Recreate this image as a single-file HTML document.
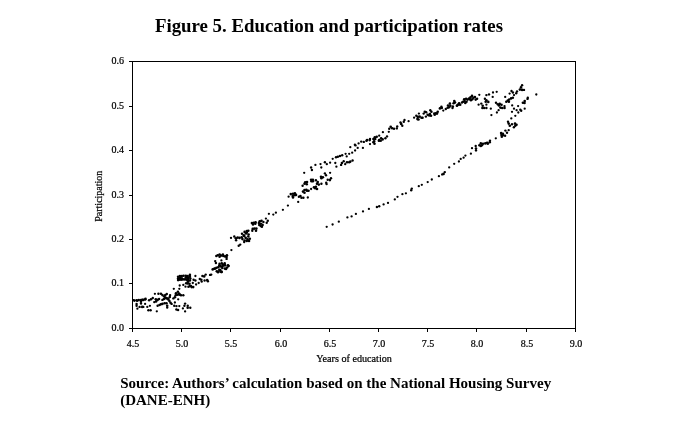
<!DOCTYPE html>
<html lang="en"><head><meta charset="utf-8"><title>Figure 5. Education and participation rates</title>
<style>html,body{margin:0;padding:0;background:#fff}svg{display:block;will-change:transform}text{font-family:"Liberation Serif",serif;fill:#000}.b{font-weight:bold}.t{font-size:10px;stroke:#000;stroke-width:.22px}</style></head><body>
<svg width="679" height="426" viewBox="0 0 679 426">
<rect width="679" height="426" fill="#fff"/>
<text class="b" x="154.9" y="31.8" font-size="18.8" textLength="348.1" lengthAdjust="spacingAndGlyphs">Figure 5. Education and participation rates</text>
<g shape-rendering="crispEdges" fill="#000">
<rect x="132" y="61" width="444" height="1"/>
<rect x="132" y="328" width="444" height="1"/>
<rect x="132" y="61" width="1" height="268"/>
<rect x="575" y="61" width="1" height="268"/>
<rect x="129" y="328" width="3" height="1"/>
<rect x="129" y="283" width="3" height="1"/>
<rect x="129" y="239" width="3" height="1"/>
<rect x="129" y="195" width="3" height="1"/>
<rect x="129" y="150" width="3" height="1"/>
<rect x="129" y="106" width="3" height="1"/>
<rect x="129" y="61" width="3" height="1"/>
<rect x="132" y="329" width="1" height="3"/>
<rect x="181" y="329" width="1" height="3"/>
<rect x="230" y="329" width="1" height="3"/>
<rect x="280" y="329" width="1" height="3"/>
<rect x="329" y="329" width="1" height="3"/>
<rect x="378" y="329" width="1" height="3"/>
<rect x="427" y="329" width="1" height="3"/>
<rect x="476" y="329" width="1" height="3"/>
<rect x="526" y="329" width="1" height="3"/>
<rect x="575" y="329" width="1" height="3"/>
</g>
<g class="t" text-anchor="end">
<text x="124" y="331.4">0.0</text>
<text x="124" y="286.4">0.1</text>
<text x="124" y="242.4">0.2</text>
<text x="124" y="198.4">0.3</text>
<text x="124" y="153.4">0.4</text>
<text x="124" y="109.4">0.5</text>
<text x="124" y="64.4">0.6</text>
</g>
<g class="t" text-anchor="middle">
<text x="132.9" y="347.3">4.5</text>
<text x="181.9" y="347.3">5.0</text>
<text x="230.9" y="347.3">5.5</text>
<text x="280.9" y="347.3">6.0</text>
<text x="329.9" y="347.3">6.5</text>
<text x="378.9" y="347.3">7.0</text>
<text x="427.9" y="347.3">7.5</text>
<text x="476.9" y="347.3">8.0</text>
<text x="526.9" y="347.3">8.5</text>
<text x="575.9" y="347.3">9.0</text>
<text x="354.1" y="361.6" textLength="75.6" lengthAdjust="spacingAndGlyphs">Years of education</text>
<text transform="translate(102.2 196.2) rotate(-90)">Participation</text>
</g>
<g fill="#000">
<circle cx="134.4" cy="300.6" r="1.3"/>
<circle cx="136.6" cy="300.3" r="1.3"/>
<circle cx="138.8" cy="300.0" r="1.3"/>
<circle cx="141.0" cy="300.0" r="1.3"/>
<circle cx="143.3" cy="299.9" r="1.3"/>
<circle cx="145.1" cy="299.5" r="1.3"/>
<circle cx="149.1" cy="300.3" r="1.2"/>
<circle cx="151.0" cy="299.3" r="1.3"/>
<circle cx="152.8" cy="298.0" r="1.2"/>
<circle cx="155.8" cy="299.3" r="1.3"/>
<circle cx="157.6" cy="299.9" r="1.3"/>
<circle cx="159.1" cy="299.0" r="1.2"/>
<circle cx="154.9" cy="293.8" r="1.15"/>
<circle cx="158.4" cy="293.8" r="1.2"/>
<circle cx="160.9" cy="293.8" r="1.3"/>
<circle cx="162.4" cy="295.1" r="1.3"/>
<circle cx="164.2" cy="296.3" r="1.3"/>
<circle cx="165.3" cy="295.1" r="1.3"/>
<circle cx="166.8" cy="294.0" r="1.2"/>
<circle cx="165.0" cy="298.0" r="1.3"/>
<circle cx="162.4" cy="299.9" r="1.2"/>
<circle cx="163.9" cy="299.0" r="1.3"/>
<circle cx="166.8" cy="298.4" r="1.3"/>
<circle cx="168.3" cy="299.5" r="1.3"/>
<circle cx="169.4" cy="301.0" r="1.3"/>
<circle cx="170.1" cy="295.1" r="1.2"/>
<circle cx="169.8" cy="296.9" r="1.3"/>
<circle cx="170.5" cy="302.8" r="1.3"/>
<circle cx="171.6" cy="303.9" r="1.2"/>
<circle cx="173.8" cy="288.8" r="1.15"/>
<circle cx="173.4" cy="298.4" r="1.2"/>
<circle cx="174.9" cy="297.3" r="1.3"/>
<circle cx="176.0" cy="293.3" r="1.3"/>
<circle cx="177.9" cy="291.8" r="1.3"/>
<circle cx="179.0" cy="293.6" r="1.3"/>
<circle cx="179.3" cy="288.8" r="1.15"/>
<circle cx="179.7" cy="285.5" r="1.15"/>
<circle cx="178.2" cy="299.3" r="1.15"/>
<circle cx="174.9" cy="302.5" r="1.15"/>
<circle cx="174.2" cy="305.8" r="1.2"/>
<circle cx="176.4" cy="306.1" r="1.2"/>
<circle cx="179.3" cy="306.1" r="1.15"/>
<circle cx="176.4" cy="309.5" r="1.2"/>
<circle cx="136.6" cy="303.9" r="1.2"/>
<circle cx="136.6" cy="305.8" r="1.2"/>
<circle cx="141.0" cy="301.7" r="1.3"/>
<circle cx="141.0" cy="303.6" r="1.2"/>
<circle cx="145.1" cy="303.9" r="1.15"/>
<circle cx="139.6" cy="306.9" r="1.2"/>
<circle cx="142.2" cy="306.9" r="1.3"/>
<circle cx="143.3" cy="306.9" r="1.2"/>
<circle cx="137.4" cy="308.7" r="1.15"/>
<circle cx="147.3" cy="306.9" r="1.15"/>
<circle cx="149.9" cy="305.8" r="1.15"/>
<circle cx="154.3" cy="302.1" r="1.2"/>
<circle cx="156.1" cy="301.4" r="1.3"/>
<circle cx="157.6" cy="305.8" r="1.2"/>
<circle cx="159.5" cy="305.0" r="1.3"/>
<circle cx="160.9" cy="304.3" r="1.3"/>
<circle cx="162.4" cy="303.9" r="1.3"/>
<circle cx="164.6" cy="303.2" r="1.3"/>
<circle cx="166.5" cy="303.2" r="1.3"/>
<circle cx="167.2" cy="305.8" r="1.3"/>
<circle cx="167.2" cy="307.6" r="1.2"/>
<circle cx="148.4" cy="310.2" r="1.2"/>
<circle cx="150.6" cy="310.2" r="1.2"/>
<circle cx="178.1" cy="276.8" r="1.3"/>
<circle cx="178.1" cy="278.6" r="1.3"/>
<circle cx="178.1" cy="280.1" r="1.3"/>
<circle cx="179.9" cy="276.0" r="1.3"/>
<circle cx="179.9" cy="277.9" r="1.3"/>
<circle cx="181.8" cy="278.3" r="1.3"/>
<circle cx="185.8" cy="277.5" r="1.3"/>
<circle cx="179.9" cy="279.7" r="1.3"/>
<circle cx="181.8" cy="276.0" r="1.3"/>
<circle cx="181.8" cy="279.7" r="1.3"/>
<circle cx="183.6" cy="275.7" r="1.3"/>
<circle cx="184.0" cy="279.4" r="1.3"/>
<circle cx="185.8" cy="275.7" r="1.3"/>
<circle cx="185.8" cy="279.4" r="1.3"/>
<circle cx="187.7" cy="276.0" r="1.3"/>
<circle cx="188.0" cy="277.9" r="1.3"/>
<circle cx="188.0" cy="279.7" r="1.3"/>
<circle cx="188.0" cy="281.6" r="1.3"/>
<circle cx="189.9" cy="274.9" r="1.3"/>
<circle cx="189.9" cy="276.8" r="1.3"/>
<circle cx="190.3" cy="278.6" r="1.3"/>
<circle cx="189.9" cy="280.5" r="1.3"/>
<circle cx="195.4" cy="276.0" r="1.15"/>
<circle cx="193.6" cy="279.7" r="1.2"/>
<circle cx="195.4" cy="280.5" r="1.2"/>
<circle cx="192.8" cy="283.0" r="1.15"/>
<circle cx="187.7" cy="283.4" r="1.3"/>
<circle cx="189.5" cy="283.8" r="1.3"/>
<circle cx="183.3" cy="284.9" r="1.15"/>
<circle cx="185.5" cy="286.7" r="1.15"/>
<circle cx="189.9" cy="286.0" r="1.3"/>
<circle cx="191.7" cy="287.1" r="1.3"/>
<circle cx="193.2" cy="287.1" r="1.3"/>
<circle cx="196.1" cy="284.5" r="1.15"/>
<circle cx="198.7" cy="283.0" r="1.15"/>
<circle cx="199.8" cy="279.0" r="1.2"/>
<circle cx="201.3" cy="279.7" r="1.3"/>
<circle cx="201.7" cy="281.6" r="1.2"/>
<circle cx="202.4" cy="276.0" r="1.2"/>
<circle cx="204.2" cy="276.4" r="1.3"/>
<circle cx="205.7" cy="274.6" r="1.2"/>
<circle cx="204.6" cy="280.5" r="1.2"/>
<circle cx="207.2" cy="280.1" r="1.3"/>
<circle cx="207.9" cy="281.2" r="1.2"/>
<circle cx="210.1" cy="274.9" r="1.2"/>
<circle cx="211.2" cy="274.6" r="1.2"/>
<circle cx="212.7" cy="269.4" r="1.3"/>
<circle cx="214.2" cy="268.7" r="1.3"/>
<circle cx="216.4" cy="267.9" r="1.3"/>
<circle cx="218.2" cy="267.2" r="1.3"/>
<circle cx="219.3" cy="265.7" r="1.3"/>
<circle cx="216.8" cy="271.3" r="1.3"/>
<circle cx="218.6" cy="271.6" r="1.3"/>
<circle cx="219.3" cy="269.8" r="1.3"/>
<circle cx="179.6" cy="294.5" r="1.3"/>
<circle cx="181.0" cy="295.2" r="1.3"/>
<circle cx="183.3" cy="295.2" r="1.2"/>
<circle cx="177.4" cy="294.8" r="1.3"/>
<circle cx="178.1" cy="310.0" r="1.2"/>
<circle cx="185.1" cy="303.6" r="1.2"/>
<circle cx="184.4" cy="305.8" r="1.2"/>
<circle cx="182.9" cy="308.4" r="1.15"/>
<circle cx="185.1" cy="311.4" r="1.15"/>
<circle cx="187.7" cy="305.8" r="1.2"/>
<circle cx="187.7" cy="307.7" r="1.3"/>
<circle cx="190.3" cy="307.7" r="1.2"/>
<circle cx="231.0" cy="237.9" r="1.15"/>
<circle cx="234.3" cy="236.5" r="1.2"/>
<circle cx="235.8" cy="238.3" r="1.3"/>
<circle cx="236.1" cy="240.2" r="1.2"/>
<circle cx="237.6" cy="237.6" r="1.3"/>
<circle cx="239.5" cy="237.9" r="1.3"/>
<circle cx="241.7" cy="237.2" r="1.3"/>
<circle cx="242.4" cy="239.1" r="1.3"/>
<circle cx="244.2" cy="236.1" r="1.3"/>
<circle cx="244.6" cy="240.5" r="1.3"/>
<circle cx="245.7" cy="237.9" r="1.3"/>
<circle cx="246.8" cy="240.9" r="1.3"/>
<circle cx="247.6" cy="239.4" r="1.3"/>
<circle cx="248.3" cy="236.5" r="1.3"/>
<circle cx="249.8" cy="238.7" r="1.3"/>
<circle cx="249.0" cy="240.9" r="1.3"/>
<circle cx="244.2" cy="242.0" r="1.2"/>
<circle cx="238.7" cy="245.7" r="1.2"/>
<circle cx="240.2" cy="244.6" r="1.2"/>
<circle cx="231.4" cy="250.1" r="1.15"/>
<circle cx="216.3" cy="256.0" r="1.2"/>
<circle cx="217.7" cy="255.3" r="1.3"/>
<circle cx="219.6" cy="254.5" r="1.3"/>
<circle cx="219.6" cy="256.7" r="1.3"/>
<circle cx="221.0" cy="255.6" r="1.3"/>
<circle cx="222.9" cy="254.5" r="1.3"/>
<circle cx="223.3" cy="256.0" r="1.3"/>
<circle cx="225.1" cy="256.4" r="1.3"/>
<circle cx="226.9" cy="255.3" r="1.3"/>
<circle cx="226.6" cy="257.1" r="1.3"/>
<circle cx="226.6" cy="258.9" r="1.2"/>
<circle cx="221.4" cy="260.4" r="1.15"/>
<circle cx="215.2" cy="261.1" r="1.2"/>
<circle cx="215.9" cy="263.0" r="1.2"/>
<circle cx="219.6" cy="263.7" r="1.3"/>
<circle cx="219.6" cy="265.2" r="1.3"/>
<circle cx="221.8" cy="263.4" r="1.3"/>
<circle cx="222.9" cy="264.5" r="1.3"/>
<circle cx="224.7" cy="263.4" r="1.3"/>
<circle cx="225.1" cy="265.2" r="1.3"/>
<circle cx="228.0" cy="265.2" r="1.3"/>
<circle cx="220.8" cy="266.4" r="1.3"/>
<circle cx="222.7" cy="266.0" r="1.3"/>
<circle cx="224.5" cy="265.3" r="1.3"/>
<circle cx="228.6" cy="266.0" r="1.3"/>
<circle cx="227.1" cy="267.5" r="1.3"/>
<circle cx="222.3" cy="267.9" r="1.3"/>
<circle cx="224.9" cy="268.6" r="1.3"/>
<circle cx="226.0" cy="269.0" r="1.3"/>
<circle cx="221.2" cy="271.9" r="1.3"/>
<circle cx="282.9" cy="209.8" r="1.15"/>
<circle cx="275.9" cy="212.7" r="1.15"/>
<circle cx="273.3" cy="214.6" r="1.15"/>
<circle cx="268.9" cy="213.8" r="1.15"/>
<circle cx="265.9" cy="218.6" r="1.15"/>
<circle cx="267.8" cy="220.8" r="1.2"/>
<circle cx="266.7" cy="222.7" r="1.2"/>
<circle cx="259.7" cy="221.2" r="1.3"/>
<circle cx="261.5" cy="220.8" r="1.3"/>
<circle cx="263.4" cy="221.9" r="1.2"/>
<circle cx="258.9" cy="223.0" r="1.3"/>
<circle cx="260.8" cy="223.8" r="1.3"/>
<circle cx="259.3" cy="224.9" r="1.3"/>
<circle cx="262.6" cy="224.9" r="1.3"/>
<circle cx="261.9" cy="226.7" r="1.3"/>
<circle cx="260.8" cy="226.0" r="1.3"/>
<circle cx="251.9" cy="223.0" r="1.3"/>
<circle cx="253.8" cy="222.7" r="1.3"/>
<circle cx="255.6" cy="222.3" r="1.3"/>
<circle cx="253.0" cy="224.5" r="1.3"/>
<circle cx="255.3" cy="223.8" r="1.3"/>
<circle cx="252.7" cy="228.9" r="1.3"/>
<circle cx="254.5" cy="228.6" r="1.3"/>
<circle cx="256.4" cy="228.6" r="1.3"/>
<circle cx="252.3" cy="230.8" r="1.2"/>
<circle cx="256.0" cy="230.8" r="1.3"/>
<circle cx="244.6" cy="231.9" r="1.3"/>
<circle cx="246.8" cy="231.1" r="1.3"/>
<circle cx="248.3" cy="230.8" r="1.3"/>
<circle cx="246.0" cy="233.4" r="1.3"/>
<circle cx="248.6" cy="234.5" r="1.3"/>
<circle cx="246.8" cy="232.6" r="1.3"/>
<circle cx="242.0" cy="233.7" r="1.2"/>
<circle cx="243.8" cy="235.2" r="1.3"/>
<circle cx="321.0" cy="176.8" r="1.3"/>
<circle cx="322.9" cy="177.2" r="1.3"/>
<circle cx="321.4" cy="178.3" r="1.3"/>
<circle cx="311.1" cy="179.8" r="1.3"/>
<circle cx="312.9" cy="179.8" r="1.3"/>
<circle cx="311.5" cy="181.3" r="1.3"/>
<circle cx="312.9" cy="181.3" r="1.3"/>
<circle cx="315.9" cy="180.2" r="1.2"/>
<circle cx="317.7" cy="182.0" r="1.3"/>
<circle cx="317.0" cy="183.8" r="1.3"/>
<circle cx="318.8" cy="184.6" r="1.3"/>
<circle cx="321.4" cy="183.8" r="1.2"/>
<circle cx="305.2" cy="182.4" r="1.3"/>
<circle cx="307.0" cy="182.0" r="1.3"/>
<circle cx="304.5" cy="183.8" r="1.3"/>
<circle cx="306.7" cy="184.2" r="1.3"/>
<circle cx="302.6" cy="185.7" r="1.2"/>
<circle cx="314.0" cy="187.2" r="1.3"/>
<circle cx="315.9" cy="186.8" r="1.3"/>
<circle cx="317.0" cy="189.0" r="1.3"/>
<circle cx="315.1" cy="188.3" r="1.3"/>
<circle cx="311.1" cy="189.0" r="1.15"/>
<circle cx="303.0" cy="191.6" r="1.3"/>
<circle cx="304.5" cy="190.1" r="1.3"/>
<circle cx="306.3" cy="189.7" r="1.3"/>
<circle cx="304.5" cy="192.7" r="1.3"/>
<circle cx="308.5" cy="190.8" r="1.3"/>
<circle cx="307.0" cy="190.8" r="1.3"/>
<circle cx="290.8" cy="194.1" r="1.3"/>
<circle cx="293.0" cy="193.8" r="1.3"/>
<circle cx="294.9" cy="193.4" r="1.3"/>
<circle cx="294.5" cy="195.3" r="1.3"/>
<circle cx="296.0" cy="194.9" r="1.3"/>
<circle cx="293.0" cy="197.5" r="1.3"/>
<circle cx="292.7" cy="196.0" r="1.3"/>
<circle cx="288.6" cy="196.7" r="1.15"/>
<circle cx="298.9" cy="196.7" r="1.2"/>
<circle cx="300.4" cy="196.0" r="1.3"/>
<circle cx="301.5" cy="197.8" r="1.3"/>
<circle cx="303.4" cy="197.8" r="1.2"/>
<circle cx="307.8" cy="197.5" r="1.15"/>
<circle cx="298.2" cy="201.9" r="1.15"/>
<circle cx="287.9" cy="205.6" r="1.15"/>
<circle cx="355.5" cy="145.4" r="1.2"/>
<circle cx="350.3" cy="147.2" r="1.15"/>
<circle cx="357.7" cy="147.9" r="1.15"/>
<circle cx="362.9" cy="147.9" r="1.15"/>
<circle cx="355.1" cy="150.5" r="1.15"/>
<circle cx="352.2" cy="152.7" r="1.15"/>
<circle cx="349.2" cy="153.8" r="1.15"/>
<circle cx="345.6" cy="153.8" r="1.15"/>
<circle cx="346.7" cy="156.4" r="1.15"/>
<circle cx="342.2" cy="155.3" r="1.2"/>
<circle cx="340.0" cy="156.0" r="1.3"/>
<circle cx="337.8" cy="156.8" r="1.3"/>
<circle cx="336.0" cy="157.2" r="1.2"/>
<circle cx="332.7" cy="158.8" r="1.15"/>
<circle cx="324.9" cy="162.3" r="1.2"/>
<circle cx="326.8" cy="164.1" r="1.2"/>
<circle cx="330.1" cy="162.7" r="1.15"/>
<circle cx="320.5" cy="164.1" r="1.15"/>
<circle cx="315.4" cy="164.9" r="1.15"/>
<circle cx="321.3" cy="167.5" r="1.15"/>
<circle cx="335.3" cy="163.0" r="1.15"/>
<circle cx="336.4" cy="166.7" r="1.15"/>
<circle cx="343.7" cy="161.2" r="1.2"/>
<circle cx="341.9" cy="163.0" r="1.3"/>
<circle cx="341.1" cy="164.9" r="1.2"/>
<circle cx="345.2" cy="164.1" r="1.2"/>
<circle cx="347.0" cy="162.3" r="1.3"/>
<circle cx="349.2" cy="162.3" r="1.3"/>
<circle cx="350.3" cy="161.6" r="1.3"/>
<circle cx="352.6" cy="160.5" r="1.2"/>
<circle cx="330.1" cy="172.8" r="1.15"/>
<circle cx="324.9" cy="173.4" r="1.2"/>
<circle cx="326.0" cy="175.2" r="1.2"/>
<circle cx="304.2" cy="172.8" r="1.15"/>
<circle cx="311.1" cy="167.5" r="1.2"/>
<circle cx="311.9" cy="170.0" r="1.2"/>
<circle cx="331.0" cy="178.3" r="1.2"/>
<circle cx="327.7" cy="179.7" r="1.2"/>
<circle cx="329.9" cy="180.1" r="1.3"/>
<circle cx="326.2" cy="182.7" r="1.2"/>
<circle cx="326.6" cy="184.1" r="1.2"/>
<circle cx="390.7" cy="126.8" r="1.3"/>
<circle cx="389.2" cy="128.7" r="1.2"/>
<circle cx="392.1" cy="128.3" r="1.3"/>
<circle cx="394.0" cy="128.7" r="1.2"/>
<circle cx="388.8" cy="131.8" r="1.15"/>
<circle cx="382.9" cy="132.2" r="1.15"/>
<circle cx="379.2" cy="135.7" r="1.15"/>
<circle cx="387.0" cy="136.4" r="1.2"/>
<circle cx="385.4" cy="138.3" r="1.2"/>
<circle cx="374.8" cy="137.2" r="1.3"/>
<circle cx="376.7" cy="136.8" r="1.3"/>
<circle cx="373.4" cy="139.0" r="1.3"/>
<circle cx="375.2" cy="139.0" r="1.3"/>
<circle cx="374.1" cy="141.2" r="1.3"/>
<circle cx="373.4" cy="142.3" r="1.3"/>
<circle cx="374.5" cy="143.8" r="1.3"/>
<circle cx="381.1" cy="138.3" r="1.3"/>
<circle cx="382.6" cy="139.4" r="1.3"/>
<circle cx="379.2" cy="140.1" r="1.3"/>
<circle cx="380.7" cy="140.8" r="1.3"/>
<circle cx="378.9" cy="140.8" r="1.3"/>
<circle cx="370.0" cy="139.0" r="1.2"/>
<circle cx="369.7" cy="140.1" r="1.3"/>
<circle cx="367.1" cy="140.1" r="1.3"/>
<circle cx="366.4" cy="140.8" r="1.2"/>
<circle cx="363.8" cy="141.9" r="1.2"/>
<circle cx="361.2" cy="141.6" r="1.2"/>
<circle cx="370.0" cy="144.1" r="1.15"/>
<circle cx="358.6" cy="143.4" r="1.15"/>
<circle cx="354.9" cy="144.7" r="1.2"/>
<circle cx="430.3" cy="110.3" r="1.2"/>
<circle cx="431.4" cy="111.8" r="1.3"/>
<circle cx="434.3" cy="113.6" r="1.3"/>
<circle cx="434.7" cy="114.7" r="1.3"/>
<circle cx="424.8" cy="111.8" r="1.3"/>
<circle cx="423.7" cy="113.6" r="1.2"/>
<circle cx="426.2" cy="112.2" r="1.2"/>
<circle cx="427.7" cy="114.7" r="1.3"/>
<circle cx="425.9" cy="116.6" r="1.2"/>
<circle cx="429.9" cy="114.0" r="1.3"/>
<circle cx="431.0" cy="115.8" r="1.3"/>
<circle cx="429.2" cy="115.5" r="1.3"/>
<circle cx="418.9" cy="113.6" r="1.15"/>
<circle cx="416.3" cy="115.8" r="1.2"/>
<circle cx="417.8" cy="116.9" r="1.3"/>
<circle cx="414.1" cy="117.7" r="1.15"/>
<circle cx="419.6" cy="116.6" r="1.3"/>
<circle cx="421.5" cy="117.7" r="1.3"/>
<circle cx="422.6" cy="117.7" r="1.2"/>
<circle cx="417.4" cy="119.1" r="1.3"/>
<circle cx="418.5" cy="119.5" r="1.3"/>
<circle cx="408.6" cy="121.2" r="1.15"/>
<circle cx="404.5" cy="119.9" r="1.2"/>
<circle cx="403.8" cy="121.7" r="1.2"/>
<circle cx="400.5" cy="122.5" r="1.2"/>
<circle cx="401.2" cy="123.9" r="1.3"/>
<circle cx="402.3" cy="125.8" r="1.2"/>
<circle cx="397.2" cy="126.5" r="1.2"/>
<circle cx="396.8" cy="128.4" r="1.2"/>
<circle cx="479.3" cy="94.8" r="1.15"/>
<circle cx="478.6" cy="104.7" r="1.15"/>
<circle cx="472.0" cy="95.9" r="1.3"/>
<circle cx="470.5" cy="97.4" r="1.3"/>
<circle cx="473.4" cy="97.7" r="1.3"/>
<circle cx="474.9" cy="97.0" r="1.3"/>
<circle cx="477.1" cy="98.8" r="1.2"/>
<circle cx="475.7" cy="99.6" r="1.3"/>
<circle cx="472.3" cy="99.2" r="1.3"/>
<circle cx="470.9" cy="100.3" r="1.3"/>
<circle cx="469.0" cy="98.5" r="1.3"/>
<circle cx="470.1" cy="99.2" r="1.3"/>
<circle cx="464.2" cy="99.2" r="1.3"/>
<circle cx="466.1" cy="98.8" r="1.3"/>
<circle cx="467.6" cy="99.6" r="1.3"/>
<circle cx="464.6" cy="101.0" r="1.3"/>
<circle cx="466.5" cy="101.8" r="1.3"/>
<circle cx="465.3" cy="102.9" r="1.3"/>
<circle cx="463.1" cy="101.8" r="1.3"/>
<circle cx="462.0" cy="102.5" r="1.2"/>
<circle cx="459.1" cy="103.3" r="1.3"/>
<circle cx="460.2" cy="104.7" r="1.3"/>
<circle cx="457.6" cy="105.1" r="1.3"/>
<circle cx="456.9" cy="105.8" r="1.3"/>
<circle cx="458.7" cy="104.4" r="1.3"/>
<circle cx="454.3" cy="101.0" r="1.3"/>
<circle cx="453.6" cy="103.3" r="1.3"/>
<circle cx="455.0" cy="102.5" r="1.3"/>
<circle cx="449.9" cy="103.6" r="1.3"/>
<circle cx="448.0" cy="105.5" r="1.3"/>
<circle cx="450.3" cy="105.8" r="1.3"/>
<circle cx="449.1" cy="107.3" r="1.3"/>
<circle cx="452.8" cy="106.6" r="1.3"/>
<circle cx="452.5" cy="108.0" r="1.2"/>
<circle cx="447.7" cy="107.7" r="1.3"/>
<circle cx="441.4" cy="106.9" r="1.3"/>
<circle cx="439.9" cy="108.4" r="1.3"/>
<circle cx="441.8" cy="108.0" r="1.3"/>
<circle cx="445.8" cy="109.0" r="1.2"/>
<circle cx="443.3" cy="110.6" r="1.15"/>
<circle cx="437.7" cy="111.7" r="1.3"/>
<circle cx="435.9" cy="113.2" r="1.3"/>
<circle cx="437.0" cy="113.6" r="1.3"/>
<circle cx="522.1" cy="85.2" r="1.2"/>
<circle cx="521.0" cy="87.4" r="1.3"/>
<circle cx="519.9" cy="89.6" r="1.3"/>
<circle cx="522.1" cy="89.9" r="1.3"/>
<circle cx="524.0" cy="89.9" r="1.2"/>
<circle cx="517.0" cy="91.4" r="1.2"/>
<circle cx="516.2" cy="93.3" r="1.2"/>
<circle cx="511.5" cy="91.0" r="1.2"/>
<circle cx="509.6" cy="93.6" r="1.15"/>
<circle cx="512.9" cy="92.5" r="1.2"/>
<circle cx="514.0" cy="95.1" r="1.15"/>
<circle cx="505.2" cy="96.9" r="1.15"/>
<circle cx="512.9" cy="97.7" r="1.2"/>
<circle cx="511.1" cy="98.4" r="1.3"/>
<circle cx="509.2" cy="99.5" r="1.3"/>
<circle cx="507.8" cy="100.6" r="1.3"/>
<circle cx="506.3" cy="101.7" r="1.3"/>
<circle cx="508.9" cy="101.7" r="1.3"/>
<circle cx="512.2" cy="105.4" r="1.15"/>
<circle cx="518.1" cy="106.1" r="1.15"/>
<circle cx="522.9" cy="102.8" r="1.3"/>
<circle cx="524.7" cy="101.0" r="1.3"/>
<circle cx="514.0" cy="108.7" r="1.15"/>
<circle cx="516.6" cy="110.2" r="1.15"/>
<circle cx="520.3" cy="109.8" r="1.2"/>
<circle cx="524.7" cy="108.7" r="1.15"/>
<circle cx="496.7" cy="91.8" r="1.15"/>
<circle cx="493.0" cy="92.5" r="1.15"/>
<circle cx="489.0" cy="94.4" r="1.2"/>
<circle cx="486.4" cy="95.1" r="1.2"/>
<circle cx="492.7" cy="96.9" r="1.15"/>
<circle cx="484.9" cy="98.8" r="1.2"/>
<circle cx="486.4" cy="100.3" r="1.3"/>
<circle cx="488.3" cy="101.9" r="1.3"/>
<circle cx="485.7" cy="101.7" r="1.3"/>
<circle cx="481.3" cy="103.6" r="1.2"/>
<circle cx="482.7" cy="105.8" r="1.3"/>
<circle cx="486.4" cy="104.7" r="1.15"/>
<circle cx="482.4" cy="108.0" r="1.3"/>
<circle cx="484.2" cy="108.0" r="1.3"/>
<circle cx="486.4" cy="108.0" r="1.2"/>
<circle cx="490.8" cy="108.7" r="1.15"/>
<circle cx="496.0" cy="102.8" r="1.2"/>
<circle cx="497.8" cy="104.3" r="1.3"/>
<circle cx="499.7" cy="103.9" r="1.3"/>
<circle cx="501.5" cy="104.7" r="1.3"/>
<circle cx="498.9" cy="105.4" r="1.3"/>
<circle cx="504.5" cy="106.1" r="1.2"/>
<circle cx="500.4" cy="107.6" r="1.3"/>
<circle cx="502.2" cy="108.0" r="1.3"/>
<circle cx="504.5" cy="108.0" r="1.3"/>
<circle cx="498.6" cy="110.2" r="1.15"/>
<circle cx="536.3" cy="94.5" r="1.15"/>
<circle cx="527.8" cy="97.8" r="1.2"/>
<circle cx="527.5" cy="98.9" r="1.2"/>
<circle cx="524.5" cy="103.0" r="1.3"/>
<circle cx="521.2" cy="110.7" r="1.2"/>
<circle cx="496.9" cy="112.5" r="1.15"/>
<circle cx="491.4" cy="115.1" r="1.15"/>
<circle cx="512.0" cy="111.8" r="1.15"/>
<circle cx="518.3" cy="112.5" r="1.15"/>
<circle cx="515.3" cy="115.8" r="1.15"/>
<circle cx="511.3" cy="118.4" r="1.15"/>
<circle cx="508.0" cy="121.7" r="1.2"/>
<circle cx="508.7" cy="123.6" r="1.3"/>
<circle cx="509.8" cy="125.8" r="1.3"/>
<circle cx="512.0" cy="124.3" r="1.2"/>
<circle cx="515.0" cy="123.6" r="1.3"/>
<circle cx="516.5" cy="124.7" r="1.3"/>
<circle cx="515.3" cy="125.8" r="1.3"/>
<circle cx="513.9" cy="127.2" r="1.2"/>
<circle cx="508.7" cy="130.2" r="1.15"/>
<circle cx="505.4" cy="130.6" r="1.2"/>
<circle cx="507.0" cy="132.7" r="1.2"/>
<circle cx="501.1" cy="133.1" r="1.3"/>
<circle cx="502.9" cy="133.8" r="1.3"/>
<circle cx="501.5" cy="134.9" r="1.3"/>
<circle cx="505.1" cy="135.7" r="1.2"/>
<circle cx="501.8" cy="136.8" r="1.3"/>
<circle cx="503.3" cy="135.3" r="1.3"/>
<circle cx="495.8" cy="138.3" r="1.15"/>
<circle cx="490.0" cy="140.8" r="1.2"/>
<circle cx="489.7" cy="142.3" r="1.3"/>
<circle cx="487.1" cy="142.7" r="1.3"/>
<circle cx="485.3" cy="143.4" r="1.3"/>
<circle cx="483.0" cy="143.8" r="1.3"/>
<circle cx="480.8" cy="143.4" r="1.3"/>
<circle cx="481.9" cy="145.3" r="1.3"/>
<circle cx="479.4" cy="145.3" r="1.3"/>
<circle cx="480.8" cy="146.0" r="1.3"/>
<circle cx="487.8" cy="143.8" r="1.3"/>
<circle cx="475.7" cy="146.0" r="1.2"/>
<circle cx="472.0" cy="148.2" r="1.15"/>
<circle cx="476.0" cy="148.6" r="1.3"/>
<circle cx="476.0" cy="150.4" r="1.2"/>
<circle cx="470.9" cy="153.7" r="1.15"/>
<circle cx="465.4" cy="155.6" r="1.15"/>
<circle cx="463.6" cy="157.7" r="1.15"/>
<circle cx="460.7" cy="158.9" r="1.15"/>
<circle cx="458.9" cy="161.5" r="1.15"/>
<circle cx="454.2" cy="163.8" r="1.15"/>
<circle cx="449.2" cy="167.4" r="1.15"/>
<circle cx="444.8" cy="172.1" r="1.2"/>
<circle cx="443.6" cy="173.9" r="1.3"/>
<circle cx="442.2" cy="174.4" r="1.2"/>
<circle cx="438.9" cy="176.2" r="1.15"/>
<circle cx="431.8" cy="179.5" r="1.15"/>
<circle cx="427.7" cy="182.1" r="1.15"/>
<circle cx="421.8" cy="184.8" r="1.15"/>
<circle cx="418.8" cy="186.2" r="1.15"/>
<circle cx="411.8" cy="188.6" r="1.2"/>
<circle cx="411.2" cy="190.3" r="1.2"/>
<circle cx="405.9" cy="193.3" r="1.15"/>
<circle cx="402.4" cy="194.2" r="1.15"/>
<circle cx="397.5" cy="196.8" r="1.15"/>
<circle cx="394.8" cy="199.4" r="1.15"/>
<circle cx="388.0" cy="202.9" r="1.15"/>
<circle cx="383.6" cy="204.4" r="1.15"/>
<circle cx="379.2" cy="206.2" r="1.2"/>
<circle cx="376.9" cy="207.0" r="1.2"/>
<circle cx="368.9" cy="208.9" r="1.15"/>
<circle cx="363.0" cy="211.4" r="1.15"/>
<circle cx="355.9" cy="213.9" r="1.15"/>
<circle cx="351.6" cy="216.4" r="1.15"/>
<circle cx="347.4" cy="217.4" r="1.15"/>
<circle cx="338.8" cy="221.7" r="1.15"/>
<circle cx="332.6" cy="224.5" r="1.15"/>
<circle cx="326.7" cy="226.8" r="1.15"/>
<circle cx="133.5" cy="300.1" r="1.2"/>
<circle cx="137.2" cy="300.7" r="1.3"/>
<circle cx="142.3" cy="299.7" r="1.3"/>
<circle cx="145.5" cy="298.9" r="1.3"/>
<circle cx="156.8" cy="311.3" r="1.15"/>
<circle cx="165.8" cy="297.9" r="1.3"/>
<circle cx="168.2" cy="298.6" r="1.3"/>
<circle cx="179.3" cy="294.5" r="1.3"/>
<circle cx="175.7" cy="295.2" r="1.3"/>
<circle cx="215.0" cy="268.6" r="1.3"/>
<circle cx="220.3" cy="270.0" r="1.3"/>
<circle cx="218.0" cy="272.3" r="1.3"/>
<circle cx="221.7" cy="271.9" r="1.3"/>
<circle cx="186.8" cy="277.4" r="1.3"/>
<circle cx="187.4" cy="280.3" r="1.3"/>
<circle cx="186.2" cy="283.3" r="1.3"/>
<circle cx="190.9" cy="286.0" r="1.3"/>
<circle cx="188.5" cy="286.8" r="1.3"/>
</g>
<text class="b" x="120.2" y="387.7" font-size="15" textLength="431" lengthAdjust="spacingAndGlyphs">Source: Authors’ calculation based on the National Housing Survey</text>
<text class="b" x="120.2" y="404.8" font-size="15">(DANE-ENH)</text>
</svg></body></html>
